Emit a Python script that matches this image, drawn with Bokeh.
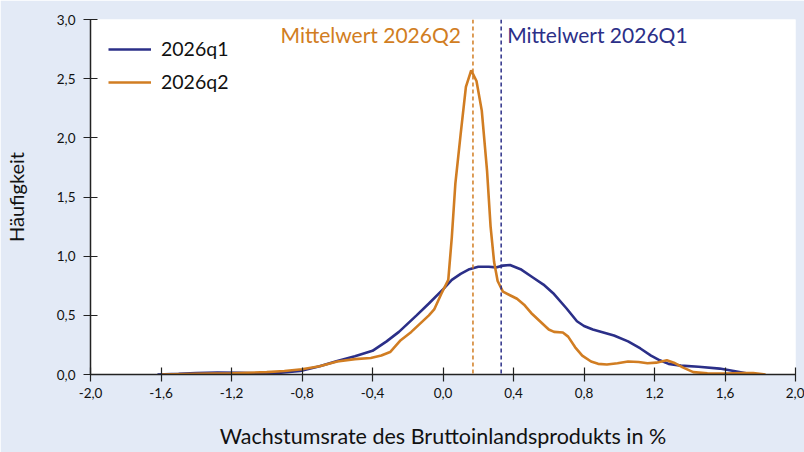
from bokeh.plotting import figure
from bokeh.models import Span, Legend, LegendItem, FixedTicker
from bokeh.core.properties import value
from bokeh.embed import file_html
from bokeh.resources import INLINE

# ---- data ----
x_q1 = [-1.62, -1.5, -1.4, -1.28, -1.15, -1.04, -0.92, -0.81, -0.7, -0.6, -0.5, -0.40, -0.32, -0.25,
        -0.15, -0.08, 0.0, 0.05, 0.10, 0.15, 0.20, 0.26, 0.30, 0.34, 0.38, 0.44, 0.51, 0.57, 0.63,
        0.70, 0.76, 0.80, 0.85, 0.90, 0.97, 1.05, 1.12, 1.18, 1.23, 1.28, 1.35, 1.45, 1.57, 1.65, 1.76]
y_q1 = [0.0, 0.006, 0.012, 0.017, 0.014, 0.01, 0.015, 0.03, 0.07, 0.115, 0.155, 0.20, 0.28, 0.36,
        0.50, 0.60, 0.72, 0.80, 0.85, 0.89, 0.91, 0.91, 0.905, 0.92, 0.925, 0.89, 0.82, 0.76, 0.68,
        0.56, 0.45, 0.41, 0.38, 0.36, 0.33, 0.28, 0.22, 0.16, 0.12, 0.09, 0.075, 0.065, 0.05, 0.03, 0.0]

x_q2 = [-1.6, -1.4, -1.2, -1.0, -0.9, -0.8, -0.7, -0.6, -0.5, -0.41, -0.35, -0.30, -0.27, -0.24,
        -0.18, -0.13, -0.08, -0.05, -0.01, 0.03, 0.05, 0.07, 0.10, 0.13, 0.16, 0.19, 0.22, 0.25,
        0.27, 0.29, 0.31, 0.34, 0.38, 0.42, 0.46, 0.50, 0.55, 0.60, 0.63, 0.68, 0.71, 0.75, 0.79,
        0.84, 0.88, 0.93, 0.99, 1.05, 1.11, 1.16, 1.21, 1.27, 1.31, 1.36, 1.42, 1.5, 1.6, 1.7, 1.76, 1.83]
y_q2 = [0.0, 0.005, 0.01, 0.02, 0.03, 0.045, 0.07, 0.11, 0.13, 0.14, 0.16, 0.19, 0.24, 0.29,
        0.36, 0.43, 0.50, 0.55, 0.68, 0.80, 1.16, 1.61, 2.03, 2.43, 2.57, 2.48, 2.23, 1.72,
        1.25, 0.95, 0.79, 0.70, 0.67, 0.64, 0.59, 0.52, 0.45, 0.38, 0.36, 0.355, 0.32, 0.23, 0.16,
        0.11, 0.09, 0.085, 0.095, 0.11, 0.105, 0.095, 0.10, 0.12, 0.10, 0.06, 0.02, 0.01, 0.008, 0.012, 0.012, 0.0]

mean_q1 = 0.33
mean_q2 = 0.17

series_names = ["2026q1", "2026q2"]
mean_labels = ["Mittelwert 2026Q1", "Mittelwert 2026Q2"]

x_ticks = [-2.0, -1.6, -1.2, -0.8, -0.4, 0.0, 0.4, 0.8, 1.2, 1.6, 2.0]
x_tick_labels = ["-2,0", "-1,6", "-1,2", "-0,8", "-0,4", "0,0", "0,4", "0,8", "1,2", "1,6", "2,0"]
y_ticks = [0.0, 0.5, 1.0, 1.5, 2.0, 2.5, 3.0]
y_tick_labels = ["0,0", "0,5", "1,0", "1,5", "2,0", "2,5", "3,0"]

# ---- style ----
BLUE = "#2b2f88"
ORANGE = "#d17d22"
BG = "#e3eaf6"
FONT = "Lato"

p = figure(width=804, height=452, x_range=(-2, 2), y_range=(0, 3),
           output_backend="svg", toolbar_location=None,
           min_border_left=90, min_border_right=9, min_border_top=19, min_border_bottom=78)
p.border_fill_color = BG
p.background_fill_color = "white"
p.outline_line_color = None
p.xgrid.visible = False
p.ygrid.visible = False

for ax in (p.xaxis[0], p.yaxis[0]):
    ax.axis_line_color = "#222222"
    ax.axis_line_width = 1.5
    ax.major_tick_line_color = "#222222"
    ax.major_tick_line_width = 1.2
    ax.major_tick_in = 7
    ax.major_tick_out = 7
    ax.minor_tick_line_color = None
    ax.major_label_text_font = FONT
    ax.major_label_text_font_size = "13.5px"
    ax.major_label_text_color = "#111111"
    ax.axis_label_text_font = FONT
    ax.axis_label_text_font_style = "normal"
    ax.axis_label_text_color = "#111111"

p.xaxis.ticker = FixedTicker(ticks=x_ticks)
p.xaxis.major_label_overrides = dict(zip(x_ticks, x_tick_labels))
p.yaxis.ticker = FixedTicker(ticks=y_ticks)
p.yaxis.major_label_overrides = dict(zip(y_ticks, y_tick_labels))
p.xaxis.major_label_standoff = 6
p.yaxis.major_label_standoff = 8
p.xaxis.axis_label = "Wachstumsrate des Bruttoinlandsprodukts in %"
p.xaxis.axis_label_text_font_size = "21.5px"
p.xaxis.axis_label_standoff = 22
p.yaxis.axis_label = "Häufigkeit"
p.yaxis.axis_label_text_font_size = "20px"
p.yaxis.axis_label_standoff = 26

r1 = p.line(x_q1, y_q1, line_color=BLUE, line_width=2.6)
r2 = p.line(x_q2, y_q2, line_color=ORANGE, line_width=2.6)

p.add_layout(Span(location=mean_q2, dimension="height", line_color=ORANGE,
                  line_dash="4 3", line_width=1.5))
p.add_layout(Span(location=mean_q1, dimension="height", line_color=BLUE,
                  line_dash="4 3", line_width=1.5))

p.text(x=[mean_q2], y=[2.87], text=[mean_labels[1]], x_offset=-12,
       text_align="right", text_baseline="middle", text_color=ORANGE,
       text_font=value(FONT), text_font_size="21px")
p.text(x=[mean_q1], y=[2.87], text=[mean_labels[0]], x_offset=6,
       text_align="left", text_baseline="middle", text_color=BLUE,
       text_font=value(FONT), text_font_size="21px")

legend = Legend(items=[LegendItem(label=series_names[0], renderers=[r1]),
                       LegendItem(label=series_names[1], renderers=[r2])],
                location="top_left", margin=18, padding=8, spacing=10,
                glyph_width=43, glyph_height=20, label_height=20, label_standoff=10,
                label_text_font=FONT, label_text_font_size="19.5px",
                label_text_color="#111111",
                background_fill_alpha=0, border_line_color=None)
p.add_layout(legend)

open("out.html", "w").write(file_html(p, INLINE))
